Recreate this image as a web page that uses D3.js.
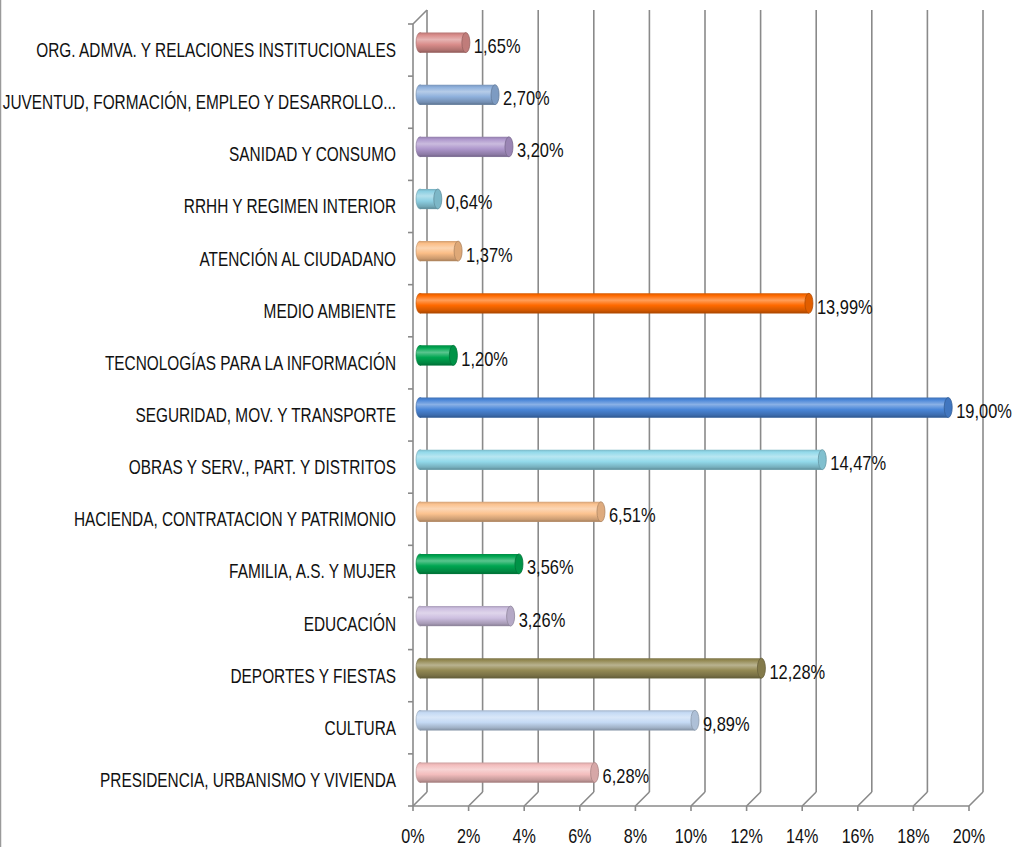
<!DOCTYPE html>
<html><head><meta charset="utf-8">
<script src="https://cdn.jsdelivr.net/npm/d3@7"></script>
<style>
html,body{margin:0;padding:0;background:#fff;}
svg{display:block;}
text{font-family:"Liberation Sans Narrow","Liberation Sans",Arial,sans-serif;fill:#111;}
</style></head>
<body>
<svg id="chart" width="1024" height="847"></svg>
<script>
const categories = [
  "ORG. ADMVA. Y RELACIONES INSTITUCIONALES",
  "JUVENTUD, FORMACIÓN, EMPLEO Y DESARROLLO...",
  "SANIDAD Y CONSUMO",
  "RRHH Y REGIMEN INTERIOR",
  "ATENCIÓN AL CIUDADANO",
  "MEDIO AMBIENTE",
  "TECNOLOGÍAS PARA LA INFORMACIÓN",
  "SEGURIDAD, MOV. Y TRANSPORTE",
  "OBRAS Y SERV., PART. Y DISTRITOS",
  "HACIENDA, CONTRATACION Y PATRIMONIO",
  "FAMILIA, A.S. Y MUJER",
  "EDUCACIÓN",
  "DEPORTES Y FIESTAS",
  "CULTURA",
  "PRESIDENCIA, URBANISMO Y VIVIENDA"
];
const values = [1.65, 2.70, 3.20, 0.64, 1.37, 13.99, 1.20, 19.00, 14.47, 6.51, 3.56, 3.26, 12.28, 9.89, 6.28];
const colors = ["#D98C8A","#8EB0DC","#AE97CC","#8CCFE2","#FBBE87","#FF6A00","#00A651","#4A86D8","#92D9EA","#FBC28F","#00A651","#CDBFE0","#948A54","#C5DAF4","#F3BDBD"];
const tickValues = [0,2,4,6,8,10,12,14,16,18,20];

const svg = d3.select("#chart");
const depth = 14;
const fs = 20;
const x = d3.scaleLinear().domain([0,20]).range([413,969]);
const y = d3.scaleBand().domain(categories).range([24,806]).padding(0);
const fmt = v => d3.format(".2f")(v).replace(".", ",") + "%";

const probe = svg.append("text").attr("font-size",fs).text(categories[0]);
const sx = Math.min(1, 360 / probe.node().getComputedTextLength());
probe.remove();

function label(g, tx, ty, txt, anchor, k){
  return g.append("text")
    .attr("transform", `translate(${tx},${ty}) scale(${sx*k},1)`)
    .attr("dy","0.35em").attr("text-anchor",anchor).attr("font-size",fs).text(txt);
}

svg.append("line").attr("x1",0.5).attr("x2",0.5).attr("y1",0).attr("y2",847).attr("stroke","#9a9a9a").attr("stroke-width",1.5);

const grid = svg.append("g").attr("stroke","#8a8a8a").attr("stroke-width",1.6).attr("fill","none");
const floorY = y.range()[1], topY = y.range()[0];
tickValues.forEach(t => {
  const xx = x(t);
  grid.append("line").attr("x1",xx+depth).attr("x2",xx+depth).attr("y1",topY-depth).attr("y2",floorY-depth);
  grid.append("line").attr("x1",xx).attr("x2",xx+depth).attr("y1",floorY).attr("y2",floorY-depth);
  grid.append("line").attr("x1",xx).attr("x2",xx).attr("y1",floorY).attr("y2",floorY+5);
});
grid.append("line").attr("x1",x(0)).attr("x2",x(20)).attr("y1",floorY).attr("y2",floorY);
grid.append("line").attr("x1",x(0)).attr("x2",x(0)).attr("y1",topY).attr("y2",floorY);
grid.append("line").attr("x1",x(0)).attr("x2",x(0)+depth).attr("y1",topY).attr("y2",topY-depth);
const bounds = categories.map(c => y(c)).concat([floorY]);
bounds.forEach(b => {
  grid.append("line").attr("x1",x(0)-5).attr("x2",x(0)).attr("y1",b).attr("y2",b);
});

const defs = svg.append("defs");
colors.forEach((c,i) => {
  const base = d3.color(c);
  const g = defs.append("linearGradient").attr("id","g"+i).attr("x1",0).attr("x2",0).attr("y1",0).attr("y2",1);
  const light = d3.interpolateRgb(c,"#ffffff")(0.35);
  g.append("stop").attr("offset","0%").attr("stop-color",base.darker(0.5));
  g.append("stop").attr("offset","12%").attr("stop-color",c);
  g.append("stop").attr("offset","35%").attr("stop-color",light);
  g.append("stop").attr("offset","60%").attr("stop-color",c);
  g.append("stop").attr("offset","88%").attr("stop-color",base.darker(0.6));
  g.append("stop").attr("offset","100%").attr("stop-color",base.darker(1.2));
});

const barH = 20, rx = 4;
const bars = svg.append("g");
const labels = svg.append("g");
categories.forEach((c,i) => {
  const v = values[i];
  const cy = y(c) + y.bandwidth()/2 - depth/2 - 0.5;
  const x0 = x(0) + depth/2;
  const x1 = x(v) + depth/2;
  const top = cy - barH/2, bot = cy + barH/2;
  const base = d3.color(colors[i]);
  const p = d3.path();
  p.moveTo(x0, top); p.lineTo(x1, top); p.lineTo(x1, bot); p.lineTo(x0, bot); p.closePath();
  const grp = bars.append("g");
  grp.append("ellipse").attr("cx",x0).attr("cy",cy).attr("rx",rx).attr("ry",barH/2)
    .attr("fill","url(#g"+i+")").attr("stroke",base.darker(0.8)).attr("stroke-width",0.6);
  grp.append("path").attr("d",p.toString()).attr("fill","url(#g"+i+")");
  grp.append("line").attr("x1",x0).attr("x2",x1).attr("y1",bot-0.3).attr("y2",bot-0.3).attr("stroke",base.darker(0.9)).attr("stroke-width",0.8);
  grp.append("ellipse").attr("cx",x1).attr("cy",cy).attr("rx",rx).attr("ry",barH/2)
    .attr("fill",base.darker(0.35)).attr("stroke",base.darker(1)).attr("stroke-width",0.8);
  label(labels, x1+rx+4, cy+3.5, fmt(v), "start", 1.07);
});

categories.forEach(c => label(labels, 396, y(c)+y.bandwidth()/2, c, "end", 1));

tickValues.forEach(t => label(labels, x(t), 836, t + "%", "middle", 1.05));
</script>
</body></html>
